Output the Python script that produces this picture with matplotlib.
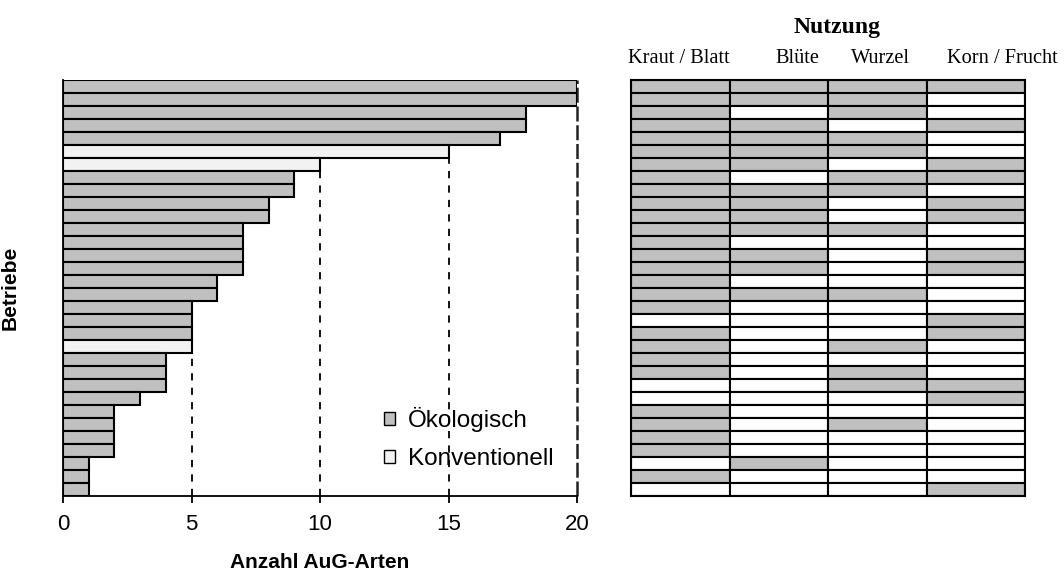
import matplotlib
matplotlib.use("Agg")
import matplotlib.pyplot as plt
from matplotlib.patches import Patch

plt.rcParams["font.family"] = ["Liberation Sans", "DejaVu Sans"]

# Anzahl AuG-Arten je Betrieb (von oben nach unten)
werte = [20, 20, 18, 18, 17, 15, 10, 9, 9, 8, 8, 7, 7, 7, 7, 6, 6,
         5, 5, 5, 5, 4, 4, 4, 3, 2, 2, 2, 2, 1, 1, 1]
# 1 = ökologisch, 0 = konventionell
oeko = [1, 1, 1, 1, 1, 0, 0, 1, 1, 1, 1, 1, 1, 1, 1, 1, 1,
        1, 1, 1, 0, 1, 1, 1, 1, 1, 1, 1, 1, 1, 1, 1]

spalten = ["Kraut / Blatt", "Blüte", "Wurzel", "Korn / Frucht"]
# Nutzung je Betrieb: Kraut/Blatt, Blüte, Wurzel, Korn/Frucht
nutzung = [
    [1, 1, 1, 1], [1, 1, 1, 0], [1, 0, 1, 0], [1, 1, 0, 1],
    [1, 1, 1, 0], [1, 1, 1, 0], [1, 1, 0, 1], [1, 0, 1, 1],
    [1, 1, 1, 0], [1, 1, 0, 1], [1, 1, 0, 1], [1, 1, 1, 0],
    [1, 0, 0, 0], [1, 1, 0, 1], [1, 1, 0, 1], [1, 0, 0, 0],
    [1, 1, 1, 0], [1, 0, 0, 0], [0, 0, 0, 1], [1, 0, 0, 1],
    [1, 0, 1, 0], [1, 0, 0, 0], [1, 0, 1, 0], [0, 0, 1, 1],
    [0, 0, 0, 1], [1, 0, 0, 0], [1, 0, 1, 0], [1, 0, 0, 0],
    [1, 0, 0, 0], [0, 1, 0, 0], [1, 0, 0, 0], [0, 0, 0, 1],
]

grau = "#c0c0c0"
hell = "#f2f2f2"

W, H = 1064, 583
fig = plt.figure(figsize=(W / 100, H / 100), dpi=100)
ax = fig.add_axes([63 / W, 1 - 496 / H, 514 / W, 416 / H])
ax2 = fig.add_axes([631 / W, 1 - 496 / H, 394 / W, 416 / H])

n = len(werte)
ypos = list(range(n))
farben = [grau if o else hell for o in oeko]

for x in [5, 10, 15]:
    ax.axvline(x, color="black", lw=1.3, ls=(0, (4, 4)), zorder=0)
ax.axvline(20, color="#222222", lw=1.8, ls=(0, (6, 1.5)), zorder=0,
           clip_on=False)
ax.barh(ypos, werte, height=1.0, color=farben, edgecolor="black",
        linewidth=1.5, zorder=2)
ax.set_xlim(0, 20)
ax.set_ylim(n - 0.5, -0.5)
ax.set_xticks([0, 5, 10, 15, 20])
ax.set_yticks([])
ax.spines["top"].set_visible(False)
ax.spines["right"].set_visible(False)
ax.spines["left"].set_linewidth(1.3)
ax.spines["bottom"].set_linewidth(1.3)
ax.tick_params(axis="x", direction="out", length=5, width=1.3,
               labelsize=16, pad=8)

fig.text(320 / W, 1 - 563 / H, "Anzahl AuG-Arten", ha="center", va="center",
         fontsize=15, fontweight="bold")
fig.text(10 / W, 1 - 288 / H, "Betriebe", ha="center", va="center",
         rotation=90, fontsize=15, fontweight="bold")

ax.legend(handles=[Patch(facecolor=grau, edgecolor="black", label="Ökologisch"),
                   Patch(facecolor=hell, edgecolor="black", label="Konventionell")],
          loc="upper left", bbox_to_anchor=(0.6245, 0.214), frameon=False,
          fontsize=17.5, handlelength=0.45, handleheight=0.45,
          handletextpad=0.55, labelspacing=0.65, borderpad=0,
          borderaxespad=0)

for j in range(len(spalten)):
    c = [grau if row[j] else "white" for row in nutzung]
    ax2.barh(ypos, [1] * n, left=j, height=1.0, color=c,
             edgecolor="black", linewidth=1.5)
ax2.set_xlim(0, 4)
ax2.set_ylim(n - 0.5, -0.5)
ax2.set_xticks([])
ax2.set_yticks([])
for s in ax2.spines.values():
    s.set_linewidth(1.5)

kopf_x = [679, 797, 880, 1002]
for px, name in zip(kopf_x, spalten):
    fig.text(px / W, 1 - 63 / H, name, ha="center", va="baseline",
             fontsize=14.7, family="Liberation Serif")
fig.text(837 / W, 1 - 33 / H, "Nutzung", ha="center", va="baseline",
         fontsize=17, fontweight="bold", family="Liberation Serif")

fig.savefig("out.png", dpi=100)
